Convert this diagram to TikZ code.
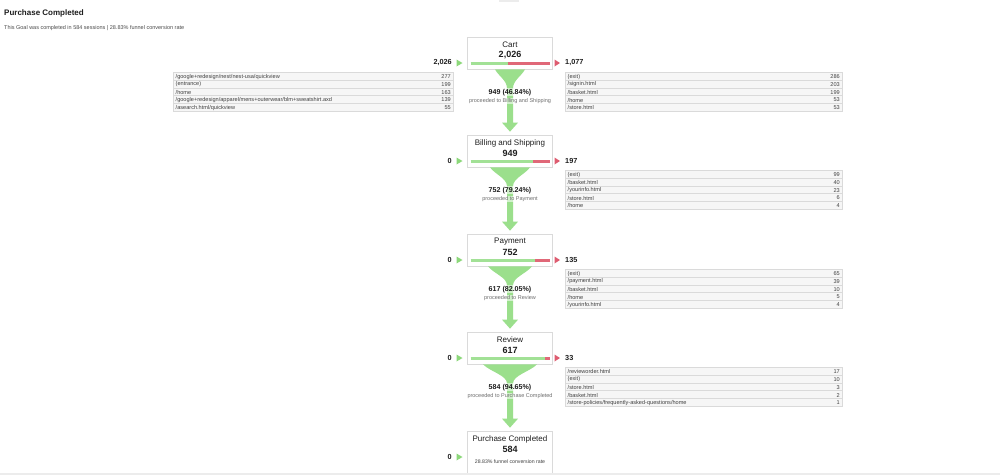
\documentclass[tikz,border=0pt]{standalone}
\usepackage{fontspec}
\setmainfont{Liberation Sans}
\usetikzlibrary{calc}

\definecolor{fgreen}{RGB}{155,223,140}
\definecolor{bgreen}{RGB}{162,225,150}
\definecolor{bred}{RGB}{224,104,120}
\definecolor{tgreen}{RGB}{140,216,122}
\definecolor{tred}{RGB}{222,92,112}
\definecolor{txt}{RGB}{30,30,30}
\definecolor{subtxt}{RGB}{110,110,110}
\definecolor{rowfill}{RGB}{246,246,246}
\definecolor{rowline}{RGB}{218,218,218}
\definecolor{boxline}{RGB}{218,218,218}
\definecolor{strip}{RGB}{236,236,236}

\tikzset{
  stagebox/.style={draw=boxline, line width=0.7pt, fill=white, minimum width=85pt, minimum height=32pt, inner sep=0pt},
  stitle/.style={inner sep=0pt, text=txt, font=\fontsize{8}{9}\selectfont},
  snum/.style={inner sep=0pt, text=txt, font=\fontsize{9}{10}\selectfont\bfseries},
  sidelab/.style={inner sep=0pt, text=txt, font=\fontsize{7.3}{8}\selectfont\bfseries},
  pctlab/.style={inner sep=0.6pt, text=txt, fill=white, fill opacity=0.55, text opacity=1, font=\fontsize{7.1}{8}\selectfont\bfseries},
  proclab/.style={inner sep=0.6pt, text=subtxt, fill=white, fill opacity=0.55, text opacity=1, font=\fontsize{5.5}{6.5}\selectfont},
  rowbox/.style={draw=rowline, line width=0.5pt, fill=rowfill, minimum height=7.8pt, inner sep=0pt, anchor=north west},
  rowtxt/.style={inner sep=0pt, text=txt!85, font=\fontsize{5.6}{6.5}\selectfont},
  convtxt/.style={inner sep=0pt, text=txt!85, font=\fontsize{5.2}{6.5}\selectfont},
  barg/.style={draw=bgreen, line width=3pt},
  barr/.style={draw=bred, line width=3pt},
  funnelshape/.style={fill=fgreen},
  hdtitle/.style={inner sep=0pt, anchor=west, text=txt, font=\fontsize{8}{9}\selectfont\bfseries},
  hdsub/.style={inner sep=0pt, anchor=west, text=txt!80, font=\fontsize{5.5}{6.5}\selectfont},
}

% name, top y, title, number, green end x, left label, right label
\newcommand{\stage}[7]{%
  \node[stagebox] (#1) at (510,{#2+16}) {};
  \node[stitle] (#1-t) at (510,{#2+8}) {#3};
  \node[snum] (#1-n) at (510,{#2+18.5}) {#4};
  \draw[barg] (470.5,{#2+26}) -- (#5,{#2+26});
  \draw[barr] (#5,{#2+26}) -- (549.5,{#2+26});
  \fill[tgreen] (456.5,{#2+22.5}) -- (462.5,{#2+26}) -- (456.5,{#2+29.5}) -- cycle;
  \fill[tred] (554.5,{#2+22.5}) -- (560,{#2+26}) -- (554.5,{#2+29.5}) -- cycle;
  \node[sidelab, anchor=east] (#1-in) at (452,{#2+26}) {#6};
  \node[sidelab, anchor=west] (#1-out) at (565,{#2+26}) {#7};
}

% from, to, half width, pct label, proceeded label
\newcommand{\funnel}[5]{%
  \fill[funnelshape] ($(#1.south)+(-#3,0)$)
    .. controls ($(#1.south)+({-#3*0.75},7)$) and ($(#1.south)+(-3,11)$) .. ($(#1.south)+(-3,19)$)
    -- ($(#2.north)+(-3,-12)$) -- ($(#2.north)+(-8,-12)$) -- ($(#2.north)+(0,-3)$)
    -- ($(#2.north)+(8,-12)$) -- ($(#2.north)+(3,-12)$) -- ($(#1.south)+(3,19)$)
    .. controls ($(#1.south)+(3,11)$) and ($(#1.south)+({#3*0.75},7)$) .. ($(#1.south)+(#3,0)$) -- cycle;
  \node[pctlab] (#1-pct) at ($(#1.south)+(0,23)$) {#4};
  \node[proclab] (#1-proc) at ($(#1.south)+(0,31.5)$) {#5};
}

% name, x, width, y, label, value
\newcommand{\trow}[6]{%
  \node[rowbox, minimum width=#3pt] (#1) at (#2,#4) {};
  \node[rowtxt, anchor=west] (#1-l) at ($(#1.west)+(2.5,0.5)$) {#5};
  \node[rowtxt, anchor=east] (#1-v) at ($(#1.east)+(-2.5,0.5)$) {#6};
}

\begin{document}
\begin{tikzpicture}[x=1pt,y=-1pt]
\fill[white] (0,0) rectangle (1000,475);
\useasboundingbox (0,0) rectangle (1000,475);

\fill[strip] (499,0) rectangle (519,1.6);

\node[hdtitle] (title) at (4,13) {Purchase Completed};
\node[hdsub] (sub) at (4,28) {This Goal was completed in 584 sessions | 28.83\% funnel conversion rate};

% stages
\stage{cart}{37}{Cart}{2,026}{507.5}{2,026}{1,077}
\stage{bill}{135}{Billing and Shipping}{949}{533}{0}{197}
\stage{pay}{234}{Payment}{752}{535}{0}{135}
\stage{rev}{332}{Review}{617}{545}{0}{33}

\node[stagebox, minimum height=42pt] (done) at (510,452) {};
\node[stitle] (done-t) at (510,439) {Purchase Completed};
\node[snum] (done-n) at (510,449.5) {584};
\node[convtxt] (done-s) at (510,462) {28.83\% funnel conversion rate};
\fill[tgreen] (456.5,453.5) -- (462.5,457) -- (456.5,460.5) -- cycle;
\node[sidelab, anchor=east] (done-in) at (452,457) {0};

% funnels
\funnel{cart}{bill}{15}{949 (46.84\%)}{proceeded to Billing and Shipping}
\funnel{bill}{pay}{20}{752 (79.24\%)}{proceeded to Payment}
\funnel{pay}{rev}{22}{617 (82.05\%)}{proceeded to Review}
\funnel{rev}{done}{27}{584 (94.65\%)}{proceeded to Purchase Completed}

% left table (cart entrances)
\trow{li1}{173}{280}{72}{/google+redesign/nest/nest-usa/quickview}{277}
\trow{li2}{173}{280}{79.8}{(entrance)}{199}
\trow{li3}{173}{280}{87.6}{/home}{163}
\trow{li4}{173}{280}{95.4}{/google+redesign/apparel/mens+outerwear/blm+sweatshirt.axd}{139}
\trow{li5}{173}{280}{103.2}{/asearch.html/quickview}{55}

% cart exits
\trow{co1}{565}{277}{72}{(exit)}{286}
\trow{co2}{565}{277}{79.8}{/signin.html}{203}
\trow{co3}{565}{277}{87.6}{/basket.html}{199}
\trow{co4}{565}{277}{95.4}{/home}{53}
\trow{co5}{565}{277}{103.2}{/store.html}{53}

% billing exits
\trow{bo1}{565}{277}{170}{(exit)}{99}
\trow{bo2}{565}{277}{177.8}{/basket.html}{40}
\trow{bo3}{565}{277}{185.6}{/yourinfo.html}{23}
\trow{bo4}{565}{277}{193.4}{/store.html}{6}
\trow{bo5}{565}{277}{201.2}{/home}{4}

% payment exits
\trow{po1}{565}{277}{269}{(exit)}{65}
\trow{po2}{565}{277}{276.8}{/payment.html}{39}
\trow{po3}{565}{277}{284.6}{/basket.html}{10}
\trow{po4}{565}{277}{292.4}{/home}{5}
\trow{po5}{565}{277}{300.2}{/yourinfo.html}{4}

% review exits
\trow{ro1}{565}{277}{367}{/revieworder.html}{17}
\trow{ro2}{565}{277}{374.8}{(exit)}{10}
\trow{ro3}{565}{277}{382.6}{/store.html}{3}
\trow{ro4}{565}{277}{390.4}{/basket.html}{2}
\trow{ro5}{565}{277}{398.2}{/store-policies/frequently-asked-questions/home}{1}

\fill[strip] (0,473.2) rectangle (1000,475);
\end{tikzpicture}
\end{document}
